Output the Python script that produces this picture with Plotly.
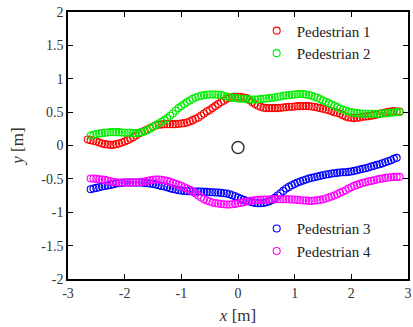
import plotly.graph_objects as go

# Pedestrian 1 (red)
x1 = [-2.65, -2.60, -2.55, -2.50, -2.45, -2.40, -2.35, -2.30, -2.25, -2.20, -2.15, -2.10, -2.05, -2.00,
      -1.95, -1.90, -1.85, -1.80, -1.75, -1.70, -1.65, -1.60, -1.55, -1.50, -1.45, -1.40, -1.35, -1.30,
      -1.25, -1.20, -1.15, -1.10, -1.05, -1.00, -0.95, -0.90, -0.85, -0.80, -0.75, -0.70, -0.65, -0.60,
      -0.55, -0.50, -0.45, -0.40, -0.35, -0.30, -0.25, -0.20, -0.15, -0.10, -0.05, 0.00, 0.05, 0.10,
      0.15, 0.20, 0.25, 0.30, 0.35, 0.40, 0.45, 0.50, 0.55, 0.60, 0.65, 0.70, 0.75, 0.80, 0.85, 0.90,
      0.95, 1.00, 1.05, 1.10, 1.15, 1.20, 1.25, 1.30, 1.35, 1.40, 1.45, 1.50, 1.55, 1.60, 1.65, 1.70,
      1.75, 1.80, 1.85, 1.90, 1.95, 2.00, 2.05, 2.10, 2.15, 2.20, 2.25, 2.30, 2.35, 2.40, 2.45, 2.50,
      2.55, 2.60, 2.65, 2.70, 2.75, 2.80, 2.85]
y1 = [0.09, 0.08, 0.07, 0.06, 0.045, 0.03, 0.02, 0.015, 0.01, 0.01, 0.02, 0.03, 0.045, 0.06,
      0.08, 0.10, 0.125, 0.15, 0.18, 0.20, 0.22, 0.24, 0.26, 0.28, 0.30, 0.31, 0.315, 0.32,
      0.32, 0.32, 0.32, 0.32, 0.325, 0.33, 0.335, 0.345, 0.36, 0.38, 0.40, 0.42, 0.45, 0.48,
      0.51, 0.53, 0.56, 0.59, 0.62, 0.65, 0.67, 0.70, 0.715, 0.725, 0.73, 0.73, 0.73, 0.72,
      0.71, 0.68, 0.65, 0.62, 0.595, 0.58, 0.565, 0.56, 0.56, 0.56, 0.56, 0.56, 0.565, 0.57, 0.575, 0.58,
      0.58, 0.585, 0.59, 0.59, 0.59, 0.59, 0.59, 0.585, 0.58, 0.57, 0.56, 0.55, 0.54, 0.53, 0.515, 0.50,
      0.49, 0.475, 0.455, 0.435, 0.42, 0.415, 0.41, 0.415, 0.42, 0.43, 0.435, 0.44, 0.445, 0.455, 0.465, 0.475,
      0.485, 0.495, 0.505, 0.51, 0.515, 0.51, 0.51]

# Pedestrian 2 (green)
x2 = [-2.60, -2.55, -2.50, -2.45, -2.40, -2.35, -2.30, -2.25, -2.20, -2.15, -2.10, -2.05, -2.00,
      -1.95, -1.90, -1.85, -1.80, -1.75, -1.70, -1.65, -1.60, -1.55, -1.50, -1.45, -1.40, -1.35, -1.30,
      -1.25, -1.20, -1.15, -1.10, -1.05, -1.00, -0.95, -0.90, -0.85, -0.80, -0.75, -0.70, -0.65, -0.60,
      -0.55, -0.50, -0.45, -0.40, -0.35, -0.30, -0.25, -0.20, -0.15, -0.10, -0.05, 0.00, 0.05, 0.10,
      0.15, 0.20, 0.25, 0.30, 0.35, 0.40, 0.45, 0.50, 0.55, 0.60, 0.65, 0.70, 0.75, 0.80, 0.85, 0.90,
      0.95, 1.00, 1.05, 1.10, 1.15, 1.20, 1.25, 1.30, 1.35, 1.40, 1.45, 1.50, 1.55, 1.60, 1.65, 1.70,
      1.75, 1.80, 1.85, 1.90, 1.95, 2.00, 2.05, 2.10, 2.15, 2.20, 2.25, 2.30, 2.35, 2.40, 2.45, 2.50,
      2.55, 2.60, 2.65, 2.70, 2.75, 2.80, 2.85]
y2 = [0.15, 0.16, 0.17, 0.18, 0.185, 0.19, 0.195, 0.20, 0.20, 0.20, 0.20, 0.195, 0.19,
      0.19, 0.19, 0.185, 0.185, 0.19, 0.20, 0.21, 0.23, 0.255, 0.28, 0.305, 0.33, 0.355, 0.38,
      0.41, 0.445, 0.48, 0.52, 0.56, 0.59, 0.62, 0.65, 0.675, 0.70, 0.72, 0.735, 0.745, 0.755,
      0.76, 0.765, 0.765, 0.765, 0.76, 0.755, 0.745, 0.735, 0.725, 0.715, 0.71, 0.705, 0.70, 0.70,
      0.695, 0.69, 0.69, 0.69, 0.69, 0.695, 0.70, 0.705, 0.71, 0.715, 0.72, 0.73, 0.735, 0.745, 0.75, 0.755,
      0.76, 0.765, 0.77, 0.77, 0.77, 0.765, 0.755, 0.745, 0.73, 0.715, 0.695, 0.675, 0.655, 0.635, 0.615, 0.595,
      0.575, 0.555, 0.54, 0.525, 0.51, 0.50, 0.49, 0.485, 0.48, 0.475, 0.475, 0.475, 0.475, 0.475, 0.475, 0.475,
      0.48, 0.48, 0.485, 0.49, 0.495, 0.50, 0.50]

# Pedestrian 3 (blue)
x3 = [-2.60, -2.55, -2.50, -2.45, -2.40, -2.35, -2.30, -2.25, -2.20, -2.15, -2.10, -2.05, -2.00,
      -1.95, -1.90, -1.85, -1.80, -1.75, -1.70, -1.65, -1.60, -1.55, -1.50, -1.45, -1.40, -1.35, -1.30,
      -1.25, -1.20, -1.15, -1.10, -1.05, -1.00, -0.95, -0.90, -0.85, -0.80, -0.75, -0.70, -0.65, -0.60,
      -0.55, -0.50, -0.45, -0.40, -0.35, -0.30, -0.25, -0.20, -0.15, -0.10, -0.05, 0.00, 0.05, 0.10,
      0.15, 0.20, 0.25, 0.30, 0.35, 0.40, 0.45, 0.50, 0.55, 0.60, 0.65, 0.70, 0.75, 0.80, 0.85, 0.90,
      0.95, 1.00, 1.05, 1.10, 1.15, 1.20, 1.25, 1.30, 1.35, 1.40, 1.45, 1.50, 1.55, 1.60, 1.65, 1.70,
      1.75, 1.80, 1.85, 1.90, 1.95, 2.00, 2.05, 2.10, 2.15, 2.20, 2.25, 2.30, 2.35, 2.40, 2.45, 2.50,
      2.55, 2.60, 2.65, 2.70, 2.75, 2.80]
y3 = [-0.655, -0.645, -0.635, -0.625, -0.615, -0.605, -0.60, -0.59, -0.58, -0.57, -0.565, -0.56, -0.555,
      -0.555, -0.555, -0.555, -0.555, -0.555, -0.555, -0.56, -0.565, -0.57, -0.575, -0.585, -0.595, -0.605, -0.615,
      -0.625, -0.64, -0.65, -0.66, -0.67, -0.675, -0.68, -0.685, -0.685, -0.69, -0.69, -0.69, -0.69, -0.695,
      -0.695, -0.70, -0.70, -0.705, -0.705, -0.71, -0.715, -0.72, -0.73, -0.745, -0.76, -0.78, -0.80, -0.815,
      -0.83, -0.84, -0.85, -0.86, -0.865, -0.865, -0.86, -0.85, -0.835, -0.815, -0.785, -0.75, -0.715, -0.68, -0.645, -0.62,
      -0.595, -0.575, -0.555, -0.54, -0.525, -0.51, -0.495, -0.485, -0.475, -0.465, -0.455, -0.445, -0.435, -0.43, -0.42, -0.415,
      -0.41, -0.405, -0.40, -0.40, -0.395, -0.39, -0.38, -0.37, -0.36, -0.35, -0.34, -0.33, -0.315, -0.305, -0.29, -0.28,
      -0.265, -0.25, -0.235, -0.22, -0.20, -0.185]

# Pedestrian 4 (magenta)
x4 = [-2.60, -2.55, -2.50, -2.45, -2.40, -2.35, -2.30, -2.25, -2.20, -2.15, -2.10, -2.05, -2.00,
      -1.95, -1.90, -1.85, -1.80, -1.75, -1.70, -1.65, -1.60, -1.55, -1.50, -1.45, -1.40, -1.35, -1.30,
      -1.25, -1.20, -1.15, -1.10, -1.05, -1.00, -0.95, -0.90, -0.85, -0.80, -0.75, -0.70, -0.65, -0.60,
      -0.55, -0.50, -0.45, -0.40, -0.35, -0.30, -0.25, -0.20, -0.15, -0.10, -0.05, 0.00, 0.05, 0.10,
      0.15, 0.20, 0.25, 0.30, 0.35, 0.40, 0.45, 0.50, 0.55, 0.60, 0.65, 0.70, 0.75, 0.80, 0.85, 0.90,
      0.95, 1.00, 1.05, 1.10, 1.15, 1.20, 1.25, 1.30, 1.35, 1.40, 1.45, 1.50, 1.55, 1.60, 1.65, 1.70,
      1.75, 1.80, 1.85, 1.90, 1.95, 2.00, 2.05, 2.10, 2.15, 2.20, 2.25, 2.30, 2.35, 2.40, 2.45, 2.50,
      2.55, 2.60, 2.65, 2.70, 2.75, 2.80, 2.85]
y4 = [-0.495, -0.495, -0.50, -0.505, -0.51, -0.515, -0.525, -0.535, -0.545, -0.55, -0.555, -0.555, -0.555,
      -0.555, -0.555, -0.555, -0.555, -0.55, -0.545, -0.54, -0.53, -0.52, -0.515, -0.51, -0.51, -0.515, -0.52,
      -0.53, -0.545, -0.56, -0.575, -0.59, -0.605, -0.625, -0.645, -0.665, -0.69, -0.72, -0.75, -0.78, -0.805,
      -0.825, -0.84, -0.855, -0.865, -0.87, -0.875, -0.88, -0.885, -0.885, -0.88, -0.875, -0.865, -0.86, -0.85,
      -0.84, -0.83, -0.825, -0.82, -0.815, -0.815, -0.81, -0.81, -0.81, -0.805, -0.805, -0.805, -0.805, -0.805, -0.805, -0.805,
      -0.81, -0.81, -0.815, -0.82, -0.825, -0.825, -0.83, -0.83, -0.825, -0.82, -0.815, -0.805, -0.795, -0.78, -0.765, -0.75,
      -0.73, -0.71, -0.69, -0.67, -0.645, -0.625, -0.605, -0.59, -0.575, -0.56, -0.55, -0.54, -0.53, -0.52, -0.51, -0.50,
      -0.495, -0.485, -0.48, -0.475, -0.47, -0.47, -0.47]

# Robot / obstacle
xr = [0.0]
yr = [-0.03]

names = ["Pedestrian 1", "Pedestrian 2", "Pedestrian 3", "Pedestrian 4"]
colors = ["#ff0000", "#00ee00", "#0000ff", "#ff00ff"]
legends = ["legend", "legend", "legend2", "legend2"]

# Tick labels (hyphen minus as in the reference)
x_tickvals = [-3, -2, -1, 0, 1, 2, 3]
x_ticktext = ["-3", "-2", "-1", "0", "1", "2", "3"]
y_tickvals = [-2, -1.5, -1, -0.5, 0, 0.5, 1, 1.5, 2]
y_ticktext = ["-2", "-1.5", "-1", "-0.5", "0", "0.5", "1", "1.5", "2"]

FONT = "Liberation Serif"

fig = go.Figure()
for xs, ys, nm, c, lg in zip([x1, x2, x3, x4], [y1, y2, y3, y4], names, colors, legends):
    fig.add_trace(go.Scatter(
        x=xs, y=ys, mode="markers", name=nm, legend=lg,
        marker=dict(symbol="circle-open", size=7, color=c, line=dict(width=1.1, color=c)),
    ))
fig.add_trace(go.Scatter(
    x=xr, y=yr, mode="markers", showlegend=False,
    marker=dict(symbol="circle-open", size=12, color="#333333", line=dict(width=1.5, color="#333333")),
))

axis_common = dict(
    showgrid=False, zeroline=False, showline=True, linecolor="black", linewidth=1.5,
    mirror="allticks", ticks="inside", ticklen=5, tickcolor="black", tickwidth=1,
    tickfont=dict(family=FONT, size=14, color="#333333"), automargin=False,
    ticklabeloverflow="allow",
)
fig.update_xaxes(range=[-3, 3], tickmode="array", tickvals=x_tickvals, ticktext=x_ticktext,
                 title=dict(text="<i>x</i> [m]", font=dict(family=FONT, size=17, color="#333333"), standoff=10),
                 **axis_common)
fig.update_yaxes(range=[-2, 2], tickmode="array", tickvals=y_tickvals, ticktext=y_ticktext,
                 title=dict(text="<i>y</i> [m]", font=dict(family=FONT, size=17, color="#333333"), standoff=13),
                 **axis_common)

legend_common = dict(
    bgcolor="rgba(0,0,0,0)", borderwidth=0, itemwidth=30,
    font=dict(family=FONT, size=15, color="#222222"),
    xanchor="left", yanchor="top", tracegroupgap=0,
)
fig.update_layout(
    width=413, height=327,
    margin=dict(l=68, r=5, t=12, b=48, autoexpand=False),
    paper_bgcolor="white", plot_bgcolor="white",
    font=dict(family=FONT),
    legend=dict(x=0.555, y=0.991, **legend_common),
    legend2=dict(x=0.555, y=0.25, **legend_common),
)

# Remove the default page margin so the figure sits at the window's top-left corner.
fig.write_html("out.html",
               config={"displayModeBar": False},
               post_script="document.body.style.margin='0';document.body.style.padding='0';")
